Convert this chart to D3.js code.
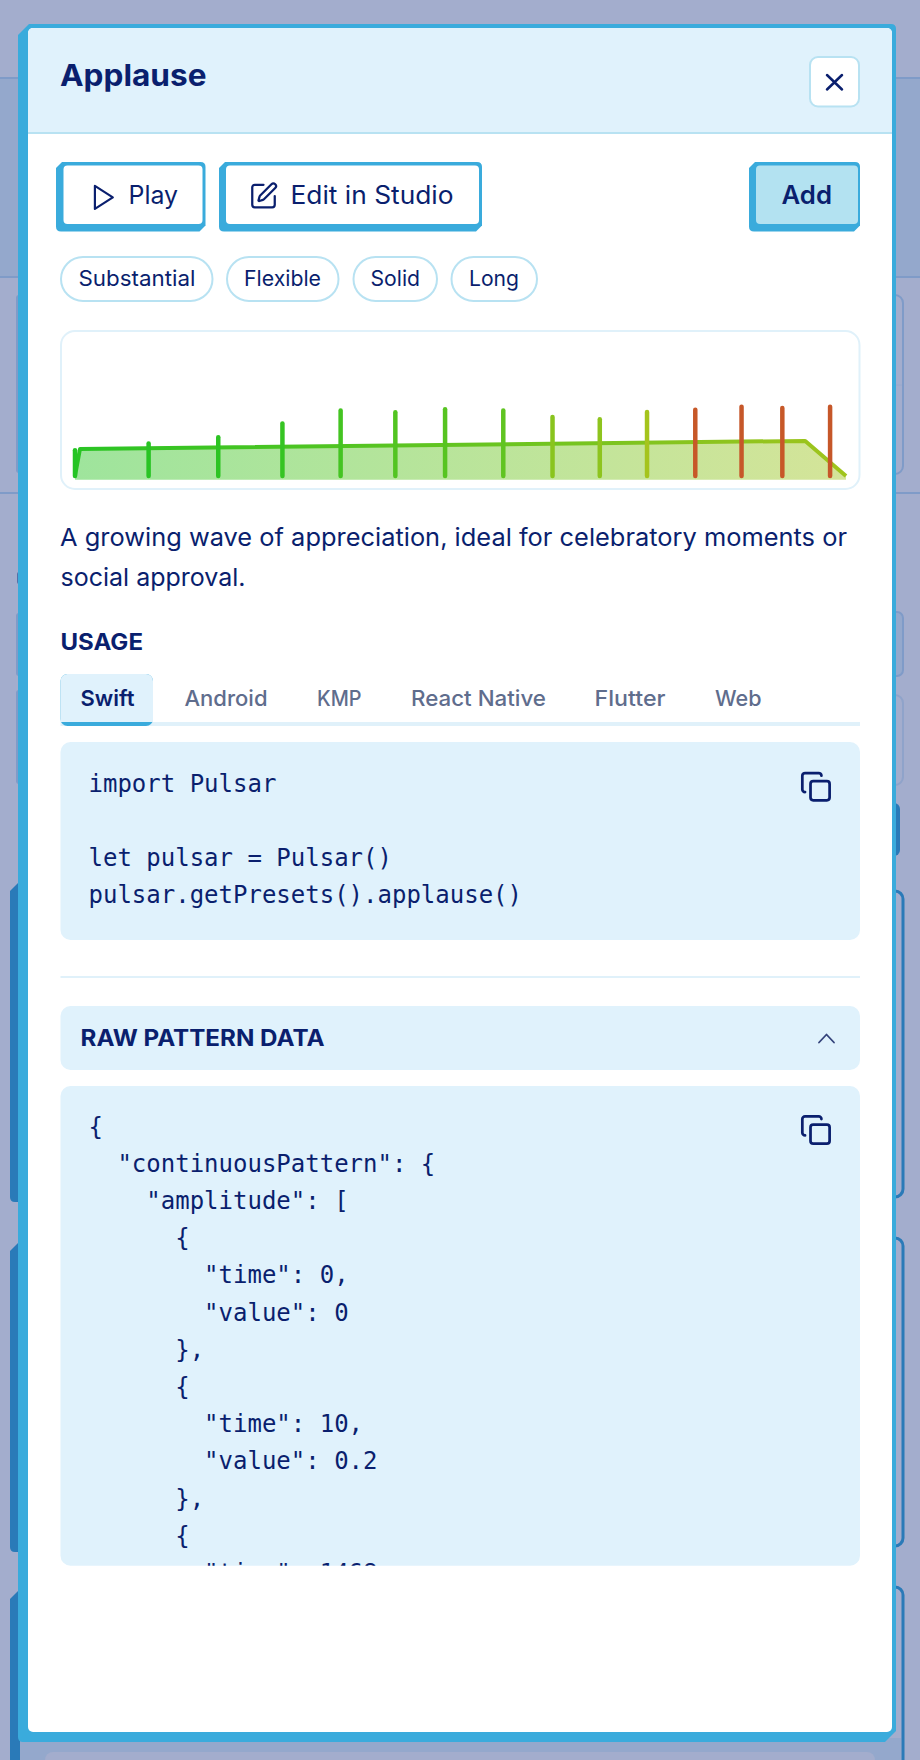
<!DOCTYPE html>
<html>
<head>
<meta charset="utf-8">
<script src="https://cdn.jsdelivr.net/npm/d3@7/dist/d3.min.js"></script>
<style>
html, body { margin: 0; padding: 0; background: #a3adcd; }
svg { display: block; }
text { font-family: "Inter", sans-serif; fill: #0a1f6e; }
text.mono { font-family: "DejaVu Sans Mono", monospace; font-size: 24px; white-space: pre; }
</style>
</head>
<body>
<div id="chart"></div>
<script>
// continuous pattern
var ampTimes = [0, 10, 1468, 1550];
var ampValues = [0, 0.2, 0.26, 0];

// frequency along the continuous line, drives its colour
var freqTimes = [0, 1550];
var freqValues = [0.02, 0.54];

// discrete events
var eventTimes = [0, 148, 288, 417, 534, 644, 744, 861, 960, 1055, 1150, 1247, 1340, 1422, 1518];
var eventAmps = [0.19, 0.24, 0.287, 0.388, 0.486, 0.472, 0.494, 0.486, 0.437, 0.42, 0.474, 0.491, 0.513, 0.504, 0.513];
var eventSharp = [0.0, 0.02, 0.04, 0.08, 0.14, 0.2, 0.22, 0.26, 0.44, 0.46, 0.56, 0.7, 0.72, 0.7, 0.72];

var tagLabels = ["Substantial", "Flexible", "Solid", "Long"];
var tabLabels = ["Swift", "Android", "KMP", "React Native", "Flutter", "Web"];
var usageLines = ["import Pulsar", "", "let pulsar = Pulsar()", "pulsar.getPresets().applause()"];
var rawLines = [
	'{',
	'  "continuousPattern": {',
	'    "amplitude": [',
	'      {',
	'        "time": 0,',
	'        "value": 0',
	'      },',
	'      {',
	'        "time": 10,',
	'        "value": 0.2',
	'      },',
	'      {',
	'        "time": 1468,'
];

var NAVY = "#0a1f6e", BLUE = "#3aabdc", DARK = "#2a7ab8", PALE = "#e0f2fc", EDGE = "#b8e2f2", GHOST = "#7f9bc8", BAND = "#94a8cc";

var svg = d3.select("#chart").append("svg").attr("width", 920).attr("height", 1760);

// box with the shifted hard shadow look, chamfered top left and bottom right
function neoPath(x0, y0, x1, y1, c) {
	var p = d3.path();
	p.moveTo(x0 + c, y0);
	p.lineTo(x1 - 5, y0);
	p.quadraticCurveTo(x1, y0, x1, y0 + 5);
	p.lineTo(x1, y1 - c);
	p.lineTo(x1 - c, y1);
	p.lineTo(x0 + 5, y1);
	p.quadraticCurveTo(x0, y1, x0, y1 - 5);
	p.lineTo(x0, y0 + c);
	p.closePath();
	return p.toString();
}

function rect(x0, y0, x1, y1, r, fill, stroke, sw) {
	return svg.append("rect").attr("x", x0).attr("y", y0)
		.attr("width", x1 - x0).attr("height", y1 - y0).attr("rx", r)
		.attr("fill", fill || "none").attr("stroke", stroke || "none").attr("stroke-width", sw || 0);
}

function label(str, x0, x1, base, size, weight, fill) {
	return svg.append("text").attr("x", x0).attr("y", base)
		.attr("textLength", x1 - x0).attr("lengthAdjust", "spacingAndGlyphs")
		.attr("font-size", size).attr("font-weight", weight)
		.style("fill", fill || NAVY).text(str);
}

function drawBackdrop() {
	rect(0, 78, 920, 277, 0, BAND);
	[78, 277, 493].forEach(function(y) {
		svg.append("line").attr("x1", 0).attr("x2", 920).attr("y1", y).attr("y2", y)
			.attr("stroke", GHOST).attr("stroke-width", 2);
	});
	rect(880, 295, 903, 474, 8, null, GHOST, 2);
	svg.append("line").attr("x1", 880).attr("x2", 902).attr("y1", 385).attr("y2", 385).attr("stroke", "#97a8cc").attr("stroke-width", 1);
	rect(880, 612, 903, 676, 6, BAND, GHOST, 2);
	rect(880, 695, 903, 785, 8, null, "#8fa3ca", 2);
	[[295, 473], [613, 676], [690, 784]].forEach(function(r) { rect(16, r[0], 30, r[1], 3, GHOST); });
	rect(17, 572, 30, 584, 2, "#5670a8");

	rect(880, 803, 900, 856, 6, DARK);
	[[891, 1197], [1238, 1546], [1587, 1800]].forEach(function(r) { rect(870, r[0], 903, r[1], 8, null, DARK, 3); });
	[[883, 1202], [1243, 1552], [1591, 1800]].forEach(function(r) {
		svg.append("path").attr("d", neoPath(10, r[0], 40, r[1], 8)).attr("fill", DARK);
	});
	rect(20, 1738, 901, 1760, 0, BAND);
	rect(45, 1752, 875, 1790, 8, "#a3adcd");
}

function drawModal() {
	svg.append("path").attr("d", neoPath(18, 24, 896, 1742, 11)).attr("fill", BLUE);
	rect(28, 28, 892, 1732, 5, "#ffffff");
	svg.append("path").attr("fill", PALE)
		.attr("d", "M28 133V33a5 5 0 0 1 5-5H887a5 5 0 0 1 5 5V133Z");
	rect(28, 132, 892, 134, 0, EDGE);

	label("Applause", 60, 206.5, 85.5, 30, 700);
	rect(810, 57, 859, 106.5, 8, "#ffffff", EDGE, 2);
	svg.append("path").attr("d", "M827 75L842 89.5M842 75L827 89.5")
		.attr("fill", "none").attr("stroke", NAVY).attr("stroke-width", 2.5).attr("stroke-linecap", "round");
}

function drawButtons() {
	var y0 = 162, y1 = 231.5;
	[[56, 205.5, 63.5, 202.5, "#ffffff"], [219, 482, 226, 479, "#ffffff"], [749, 860, 756, 858, "#b3e2f1"]].forEach(function(b) {
		svg.append("path").attr("d", neoPath(b[0], y0, b[1], y1, 6)).attr("fill", BLUE);
		rect(b[2], 165.5, b[3], 224, 4, b[4]);
	});
	label("Play", 128.5, 178, 204, 25, 400);
	label("Edit in Studio", 290.5, 453.5, 204, 25, 400);
	label("Add", 781.5, 832, 204, 25, 600);

	svg.append("path").attr("transform", "translate(88.5,182) scale(1.28)")
		.attr("d", "M5 3L19 12L5 21Z").attr("fill", "none").attr("stroke", NAVY)
		.attr("stroke-width", 1.7).attr("stroke-linejoin", "round");
	svg.append("path").attr("transform", "translate(248.5,181) scale(1.25)")
		.attr("d", "M12 3H5a2 2 0 0 0-2 2v14a2 2 0 0 0 2 2h14a2 2 0 0 0 2-2v-7M18.375 2.625a1 1 0 0 1 3 3l-9.013 9.014a2 2 0 0 1-.853.505l-2.873.84a.5.5 0 0 1-.62-.62l.84-2.873a2 2 0 0 1 .506-.852z")
		.attr("fill", "none").attr("stroke", NAVY).attr("stroke-width", 1.8).attr("stroke-linejoin", "round").attr("stroke-linecap", "round");
}

function drawTags() {
	var pills = [[61, 212.5, 78.5, 195.5], [227, 338.5, 244, 321], [353.5, 437, 370.5, 420], [451.5, 537, 469, 519]];
	tagLabels.forEach(function(t, i) {
		rect(pills[i][0], 257, pills[i][1], 301, 22, "#ffffff", EDGE, 2);
		label(t, pills[i][2], pills[i][3], 285.5, 21.5, 400);
	});
}

function drawPattern() {
	rect(61, 331, 859.5, 489, 14, "#ffffff", "#e0f1fa", 2);

	var x = d3.scaleLinear().domain([0, 1550]).range([75, 846]);
	var y = d3.scaleLinear().domain([0, 1]).range([476, 341]);
	var color = d3.scaleLinear()
		.domain([0, 0.6, 0.61, 1])
		.range(["#24c424", "#aec41c", "#c85a28", "#c2502a"]);

	var defs = svg.append("defs");
	var grad = defs.append("linearGradient").attr("id", "freqGrad").attr("gradientUnits", "userSpaceOnUse")
		.attr("x1", x(0)).attr("x2", x(1550)).attr("y1", 0).attr("y2", 0);
	freqTimes.forEach(function(t, i) {
		grad.append("stop").attr("offset", t / 1550).attr("stop-color", color(freqValues[i]));
	});

	var amp = ampTimes.map(function(t, i) { return { t: t, v: ampValues[i] }; });
	var area = d3.area().x(function(d) { return x(d.t); }).y1(function(d) { return y(d.v); }).y0(y(-0.028));
	var line = d3.line().x(function(d) { return x(d.t); }).y(function(d) { return y(d.v); });

	svg.append("path").datum(amp).attr("d", area).attr("fill", "url(#freqGrad)").attr("fill-opacity", 0.45);
	svg.append("path").datum(amp).attr("d", line).attr("fill", "none")
		.attr("stroke", "url(#freqGrad)").attr("stroke-width", 4).attr("stroke-linejoin", "round");

	svg.selectAll("line.event").data(eventTimes).enter().append("line")
		.attr("class", "event")
		.attr("x1", function(d) { return x(d); })
		.attr("x2", function(d) { return x(d); })
		.attr("y1", y(0))
		.attr("y2", function(d, i) { return y(eventAmps[i]); })
		.attr("stroke", function(d, i) { return color(eventSharp[i]); })
		.attr("stroke-width", 4.5)
		.attr("stroke-linecap", "round");
}

function copyIcon(ty) {
	var g = svg.append("g").attr("transform", "translate(799.6," + ty + ") scale(1.364)")
		.attr("fill", "none").attr("stroke", NAVY).attr("stroke-width", 2).attr("stroke-linecap", "round").attr("stroke-linejoin", "round");
	g.append("rect").attr("x", 8).attr("y", 8).attr("width", 14).attr("height", 14).attr("rx", 2);
	g.append("path").attr("d", "M4 16c-1.1 0-2-.9-2-2V4c0-1.1.9-2 2-2h10c1.1 0 2 .9 2 2");
}

function codeLines(lines, first, clip) {
	var g = svg.append("g");
	if (clip) g.attr("clip-path", "url(#" + clip + ")");
	g.selectAll("text").data(lines).enter().append("text")
		.attr("class", "mono").attr("x", 88.5).attr("y", function(d, i) { return first + i * 37.2; })
		.attr("xml:space", "preserve").text(function(d) { return d; });
}

function drawBody() {
	label("A growing wave of appreciation, ideal for celebratory moments or", 60, 847, 545.5, 24.5, 400);
	label("social approval.", 60.5, 245.5, 586, 24.5, 400);
	label("USAGE", 60.5, 143, 649.5, 22.5, 700);

	rect(60.5, 722, 860, 726, 0, "#e0f1fa");
	rect(60.5, 674, 153, 726, 7, BLUE);
	svg.append("path").attr("fill", PALE).attr("d", "M60.5 722V681a7 7 0 0 1 7-7H146a7 7 0 0 1 7 7V722Z");
	var tabX = [[80.5, 134.5], [184.5, 267.5], [317, 361.5], [411, 546], [594.5, 665.5], [715, 761.5]];
	tabLabels.forEach(function(t, i) {
		label(t, tabX[i][0], tabX[i][1], 706, 22, i === 0 ? 600 : 500, i === 0 ? NAVY : "#5f6d8d");
	});

	rect(60.5, 742, 860, 940, 10, PALE);
	codeLines(usageLines, 791.7, null);
	copyIcon(770.3);

	rect(60.5, 976, 860, 978, 0, "#e0f1fa");

	rect(60.5, 1006, 860, 1070, 10, PALE);
	label("RAW PATTERN DATA", 80.5, 324.5, 1046, 22.5, 700);
	svg.append("path").attr("d", "M819 1042.5L826.5 1034.5L834 1042.5").attr("fill", "none")
		.attr("stroke", "#33427a").attr("stroke-width", 1.8).attr("stroke-linecap", "round").attr("stroke-linejoin", "round");

	rect(60.5, 1086, 860, 1565.7, 10, PALE);
	svg.append("clipPath").attr("id", "rawClip").append("rect")
		.attr("x", 60).attr("y", 1086).attr("width", 800).attr("height", 479.7);
	codeLines(rawLines, 1134.5, "rawClip");
	copyIcon(1113.6);
}

drawBackdrop();
drawModal();
drawButtons();
drawTags();
drawPattern();
drawBody();
</script>
</body>
</html>
